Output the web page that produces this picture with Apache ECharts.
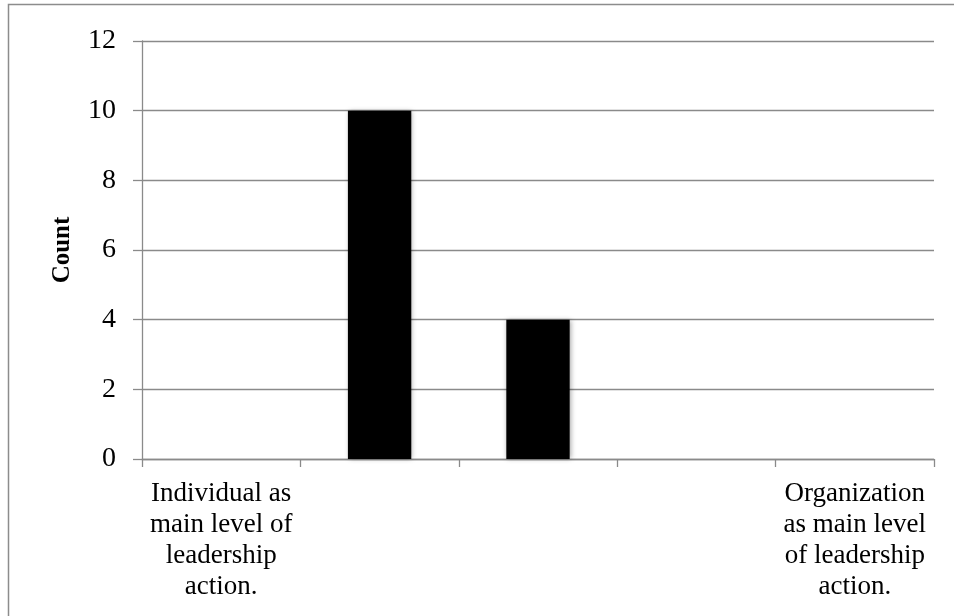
<!DOCTYPE html>
<html>
<head>
<meta charset="utf-8">
<script src="https://cdn.jsdelivr.net/npm/echarts@6/dist/echarts.min.js"></script>
<style>
  html, body { margin: 0; padding: 0; background: #ffffff; }
  #chart { width: 954px; height: 616px; }
</style>
</head>
<body>
<div id="chart"></div>
<script>
// Five positions on the individual–organization continuum (line breaks as printed)
const categories = [
  'Individual as\nmain level of\nleadership\naction.',
  '',
  '',
  '',
  'Organization\nas main level\nof leadership\naction.'
];
const counts = [0, 10, 4, 0, 0];
const yTicks = { min: 0, max: 12, interval: 2 };
const yAxisTitle = 'Count';

const serif = '"Liberation Serif", "DejaVu Serif", serif';
const gridGray = '#8a8a8a';

const chart = echarts.init(document.getElementById('chart'), null, { renderer: 'canvas' });
chart.setOption({
  backgroundColor: '#ffffff',
  animation: false,
  graphic: [{
    type: 'rect',
    shape: { x: 8.5, y: 4.5, width: 1200, height: 900 },
    style: { fill: 'none', stroke: '#8c8c8c', lineWidth: 1.5 },
    silent: true
  }],
  grid: { left: 142, right: 20, top: 41, bottom: 157, containLabel: false, outerBoundsMode: 'none' },
  xAxis: {
    type: 'category',
    data: categories,
    axisLine: { lineStyle: { color: gridGray, width: 1.3 } },
    axisTick: { show: true, length: 8, lineStyle: { color: gridGray, width: 1.3 } },
    axisLabel: {
      interval: 0,
      margin: 19,
      fontFamily: serif,
      fontSize: 27,
      lineHeight: 31,
      color: '#000000',
      align: 'center'
    }
  },
  yAxis: {
    type: 'value',
    min: yTicks.min,
    max: yTicks.max,
    interval: yTicks.interval,
    name: yAxisTitle,
    nameLocation: 'middle',
    nameGap: 67,
    nameRotate: 90,
    nameTextStyle: { fontFamily: serif, fontSize: 25, fontWeight: 'bold', color: '#000000' },
    axisLine: { show: true, lineStyle: { color: gridGray, width: 1.3 } },
    axisTick: { show: true, length: 9, lineStyle: { color: gridGray, width: 1.3 } },
    axisLabel: { margin: 26, fontFamily: serif, fontSize: 28, color: '#000000' },
    splitLine: { show: true, lineStyle: { color: gridGray, width: 1.3 } }
  },
  series: [{
    type: 'bar',
    data: counts,
    barWidth: '40%',
    itemStyle: {
      color: '#000000',
      shadowColor: 'rgba(0,0,0,0.35)',
      shadowBlur: 5,
      shadowOffsetX: 1,
      shadowOffsetY: 0
    }
  }]
});
</script>
</body>
</html>
